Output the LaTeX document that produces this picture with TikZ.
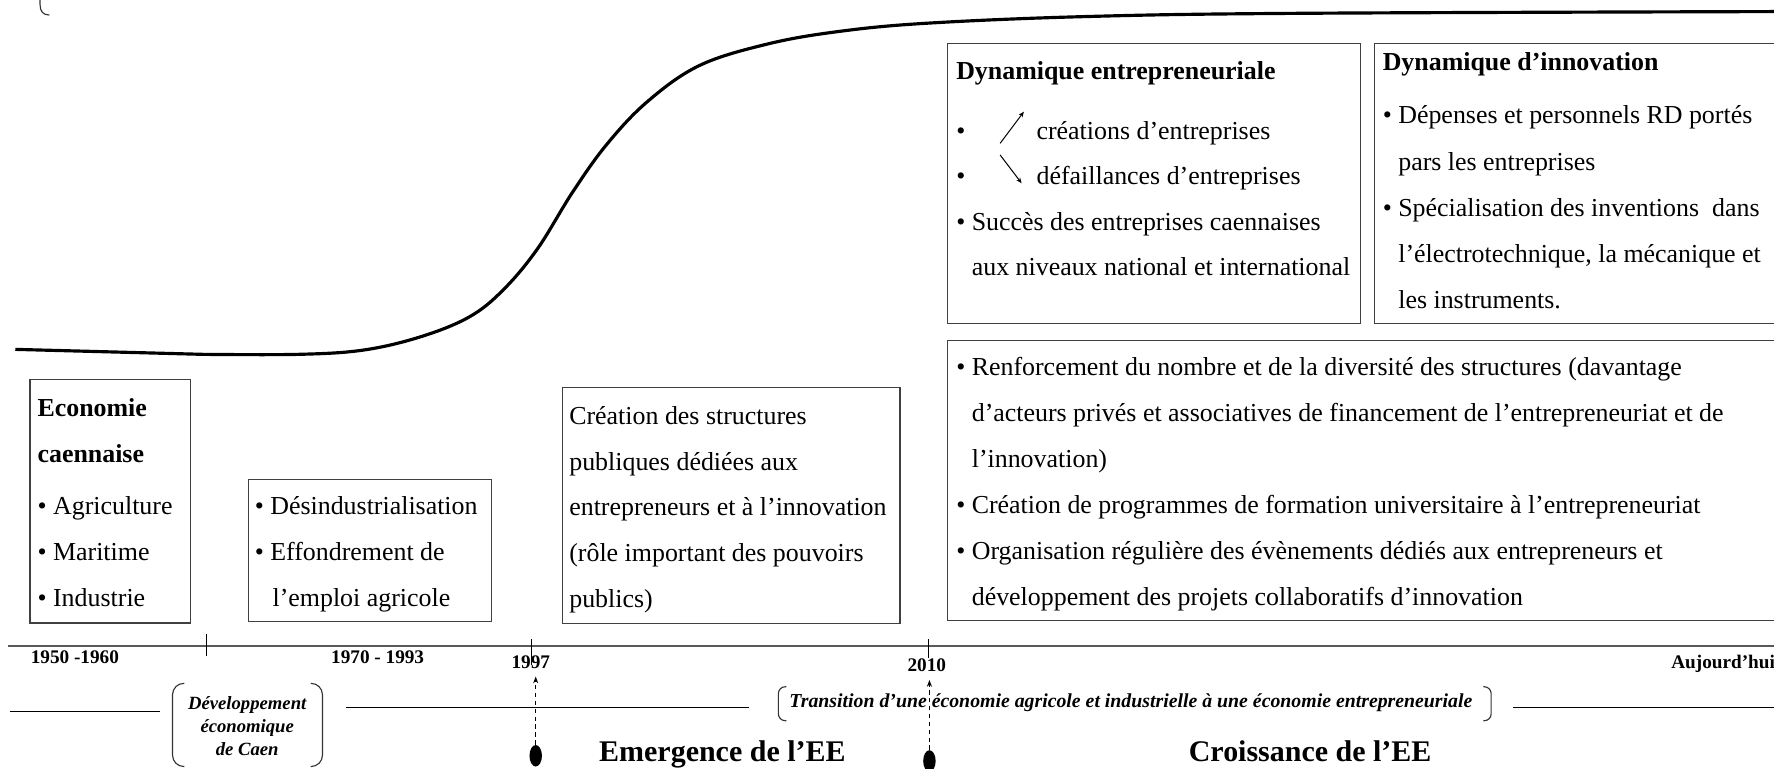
\documentclass[tikz,border=0pt]{standalone}
\usepackage{fontspec}
\setmainfont{Liberation Serif}
\usetikzlibrary{arrows.meta,shapes.geometric}
\begin{document}
\begin{tikzpicture}[x=1pt,y=-1pt,
  box/.style={draw=black!75, line width=1.1pt, inner sep=0pt, anchor=north west},
  txt/.style={inner sep=0pt, anchor=base west, align=left, font=\fontsize{22.9}{40.7}\selectfont},
  ttl/.style={inner sep=0pt, anchor=base west, align=left, font=\fontsize{22.9}{40.7}\selectfont\bfseries},
  yr/.style={inner sep=0pt, anchor=base west, font=\fontsize{17}{20}\selectfont\bfseries},
  bigttl/.style={inner sep=0pt, anchor=base, font=\fontsize{26.5}{30}\selectfont\bfseries},
  period/.style={inner sep=0pt, align=center, font=\fontsize{16.5}{20.5}\selectfont\bfseries\itshape},
  axis/.style={draw=black!65, line width=2pt},
  rule/.style={draw=black, line width=1pt},
  brk/.style={draw=black!80, line width=1pt},
  dasharrow/.style={draw=black, line width=1pt, dash pattern=on 4pt off 3pt, -{Stealth[length=6pt,width=4.5pt]}},
  smallarrow/.style={draw=black, line width=0.9pt, -{Stealth[length=5pt,width=4pt]}},
  dot/.style={ellipse, fill=black, inner sep=0pt, minimum width=11pt, minimum height=19pt},
  curve/.style={draw=black, line width=2.8pt, line join=round}
]
\useasboundingbox (0,0) rectangle (1568,679);
\clip (0,0) rectangle (1568,679);

% top-left bracket fragment
\draw[brk] (35.4,-2) -- (35.4,4) .. controls (35.4,10) and (38,13.3) .. (43.6,13.3);

% growth curve
\draw[curve] (13.5,308.8) -- (179.3,313.2) -- plot[smooth, tension=0.6] coordinates {(179.3,313.2) (263.8,313.2) (321.3,309.4) (372,297.6) (415,280) (445,256) (475,220) (506,170) (536,128) (572,90) (618,58) (678,39) (740,28) (818,20.6) (957.6,14.7) (1144,11.8) (1580,10.2)};

% boxes
\node[box, minimum width=142pt, minimum height=215pt] (eco) at (26,335) {};
\node[box, minimum width=215pt, minimum height=126pt] (des) at (219,423) {};
\node[box, minimum width=298.5pt, minimum height=208.5pt] (cre) at (496.4,341.8) {};
\node[box, minimum width=365pt, minimum height=247.5pt] (dynE) at (837,37.7) {};
\node[box, minimum width=420pt, minimum height=247.5pt] (dynI) at (1214,37.7) {};
\node[box, minimum width=800pt, minimum height=247.5pt] (bigbox) at (837,300.5) {};

% box texts (anchor = baseline of the last line)
\node[ttl] (ecoT) at (33,408.5) {Economie\\caennaise};
\node[txt] (ecoL) at (33,536.5) {• Agriculture\\• Maritime\\• Industrie};
\node[txt] (desL) at (225,536.5) {• Désindustrialisation\\• Effondrement de\\\hphantom{•\ }\hspace{2pt}l’emploi agricole};
\node[txt, font=\fontsize{22.9}{40.5}\selectfont] (creL) at (503,537) {Création des structures\\publiques dédiées aux\\entrepreneurs et à l’innovation\\(rôle important des pouvoirs\\publics)};

\node[ttl] (dynET) at (845,70) {Dynamique entrepreneuriale};
\node[txt, font=\fontsize{22.9}{40.3}\selectfont] (dynEL) at (845,243.9) {\makebox[71pt][l]{•}créations d’entreprises\\\makebox[71pt][l]{•}défaillances d’entreprises\\• Succès des entreprises caennaises\\\hphantom{•\ }aux niveaux national et international};
\coordinate (upA) at (884,126.7);
\coordinate (upB) at (905,98.7);
\coordinate (dnA) at (884,137);
\coordinate (dnB) at (903,162);
\draw[smallarrow] (upA) -- (upB);
\draw[smallarrow] (dnA) -- (dnB);

\node[ttl] (dynIT) at (1222,62.5) {Dynamique d’innovation};
\node[txt, font=\fontsize{22.9}{40.85}\selectfont] (dynIL) at (1222,273) {• Dépenses et personnels RD portés\\\hphantom{•\ }pars les entreprises\\• Spécialisation des inventions\ \ dans\\\hphantom{•\ }l’électrotechnique, la mécanique et\\\hphantom{•\ }les instruments.};

\node[txt] (bigL) at (845,535.5) {• Renforcement du nombre et de la diversité des structures (davantage\\\hphantom{•\ }d’acteurs privés et associatives de financement de l’entrepreneuriat et de\\\hphantom{•\ }l’innovation)\\• Création de programmes de formation universitaire à l’entrepreneuriat\\• Organisation régulière des évènements dédiés aux entrepreneurs et\\\hphantom{•\ }développement des projets collaboratifs d’innovation};

% timeline axis
\coordinate (axL) at (7,571);
\coordinate (axR) at (1580,571);
\draw[axis] (axL) -- (axR);
\coordinate (t1a) at (182.7,560); \coordinate (t1b) at (182.7,579.5);
\coordinate (t2a) at (470,565); \coordinate (t2b) at (470,588);
\coordinate (t3a) at (820.5,565); \coordinate (t3b) at (820.5,582);
\draw[rule] (t1a) -- (t1b);
\draw[rule] (t2a) -- (t2b);
\draw[rule] (t3a) -- (t3b);

% year labels
\node[yr] (y50) at (27,586.5) {1950 -1960};
\node[yr] (y70) at (292.5,586.5) {1970 - 1993};
\node[yr] (y97) at (452,591) {1997};
\node[yr] (y10) at (802,593.7) {2010};
\node[yr] (yau) at (1477,591) {Aujourd’hui};

% lower period lines
\coordinate (l1a) at (8.6,629); \coordinate (l1b) at (141.4,629);
\coordinate (l2a) at (306,625); \coordinate (l2b) at (662,625);
\coordinate (l3a) at (1337.6,625); \coordinate (l3b) at (1580,625);
\draw[rule] (l1a) -- (l1b);
\draw[rule] (l2a) -- (l2b);
\draw[rule] (l3a) -- (l3b);

% period labels with brackets
\node[period] (dev) at (218.5,642) {Développement\\économique\\de Caen};
\draw[brk, rounded corners=10pt] (163,604) -- (152.5,604) -- (152.5,677.5) -- (163,677.5);
\draw[brk, rounded corners=10pt] (274.5,604) -- (285,604) -- (285,677.5) -- (274.5,677.5);

\node[period, font=\fontsize{17.5}{20.5}\selectfont\bfseries\itshape, anchor=base west] (tra) at (697.6,625) {Transition d’une économie agricole et industrielle à une économie entrepreneuriale};
\draw[brk, rounded corners=6pt] (695,607) -- (688,607) -- (688,637) -- (695,637);
\draw[brk, rounded corners=6pt] (1311,607) -- (1318,607) -- (1318,637) -- (1311,637);

% milestones
\node[dot] (d97) at (473.5,668) {};
\coordinate (tip97) at (473.5,598);
\draw[dasharrow] (d97.north) -- (tip97);
\node[dot] (d10) at (821.5,672.6) {};
\coordinate (tip10) at (821.5,601);
\draw[dasharrow] (d10.north) -- (tip10);

% phase titles
\node[bigttl] (emg) at (638.5,673) {Emergence de l’EE};
\node[bigttl] (cro) at (1158,673) {Croissance de l’EE};
\end{tikzpicture}
\end{document}
